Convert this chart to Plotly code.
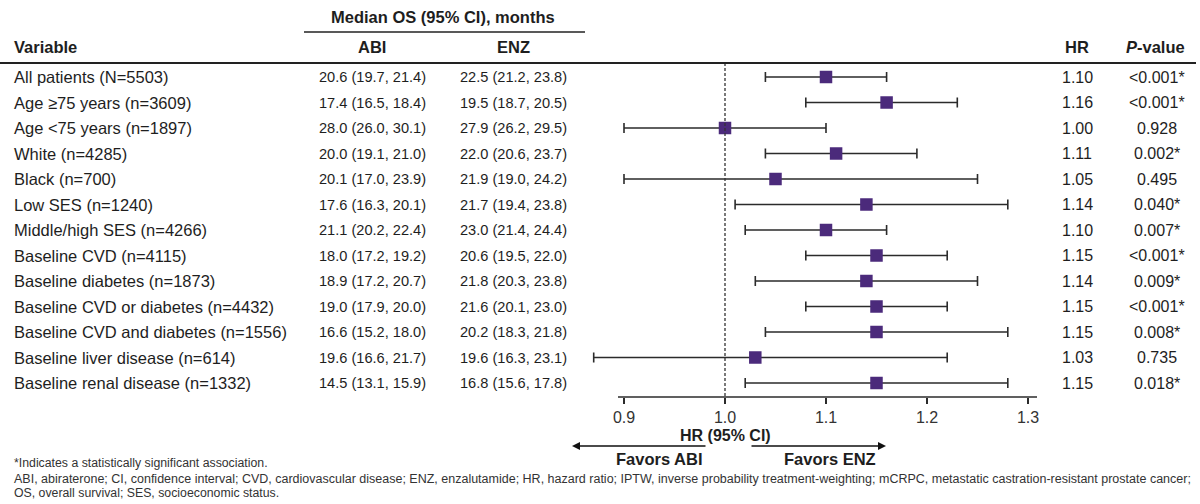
import plotly.graph_objects as go

labels = ["All patients (N=5503)", "Age \u226575 years (n=3609)", "Age <75 years (n=1897)",
          "White (n=4285)", "Black (n=700)", "Low SES (n=1240)", "Middle/high SES (n=4266)",
          "Baseline CVD (n=4115)", "Baseline diabetes (n=1873)", "Baseline CVD or diabetes (n=4432)",
          "Baseline CVD and diabetes (n=1556)", "Baseline liver disease (n=614)",
          "Baseline renal disease (n=1332)"]
abi = ["20.6 (19.7, 21.4)", "17.4 (16.5, 18.4)", "28.0 (26.0, 30.1)", "20.0 (19.1, 21.0)",
       "20.1 (17.0, 23.9)", "17.6 (16.3, 20.1)", "21.1 (20.2, 22.4)", "18.0 (17.2, 19.2)",
       "18.9 (17.2, 20.7)", "19.0 (17.9, 20.0)", "16.6 (15.2, 18.0)", "19.6 (16.6, 21.7)",
       "14.5 (13.1, 15.9)"]
enz = ["22.5 (21.2, 23.8)", "19.5 (18.7, 20.5)", "27.9 (26.2, 29.5)", "22.0 (20.6, 23.7)",
       "21.9 (19.0, 24.2)", "21.7 (19.4, 23.8)", "23.0 (21.4, 24.4)", "20.6 (19.5, 22.0)",
       "21.8 (20.3, 23.8)", "21.6 (20.1, 23.0)", "20.2 (18.3, 21.8)", "19.6 (16.3, 23.1)",
       "16.8 (15.6, 17.8)"]
hr = [1.10, 1.16, 1.00, 1.11, 1.05, 1.14, 1.10, 1.15, 1.14, 1.15, 1.15, 1.03, 1.15]
ci_low = [1.04, 1.08, 0.90, 1.04, 0.90, 1.01, 1.02, 1.08, 1.03, 1.08, 1.04, 0.87, 1.02]
ci_high = [1.16, 1.23, 1.10, 1.19, 1.25, 1.28, 1.16, 1.22, 1.25, 1.22, 1.28, 1.22, 1.28]
pvals = ["<0.001*", "<0.001*", "0.928", "0.002*", "0.495", "0.040*", "0.007*", "<0.001*",
         "0.009*", "<0.001*", "0.008*", "0.735", "0.018*"]
xticks = [0.9, 1.0, 1.1, 1.2, 1.3]

W, H = 1200, 504
FONT = "Liberation Sans, Arial, Helvetica, sans-serif"
TXT = "#1e1e1e"
rows = list(range(len(labels)))

# pixel geometry helpers
ROW0, ROWSTEP, AXIS_Y = 77, 25.5, 397
def px_to_row(py):
    return (py - ROW0) / ROWSTEP

X_L, X_R = 590, 1040          # plot area pixel extent
PX_PER_UNIT = 1010.0
X09 = 624
xr0 = 0.9 - (X09 - X_L) / PX_PER_UNIT
xr1 = 0.9 + (X_R - X09) / PX_PER_UNIT

def px(x):
    return x / W
def py(y):
    return 1 - y / H

fig = go.Figure()
fig.add_trace(go.Scatter(
    x=hr, y=rows, mode="markers",
    marker=dict(symbol="square", size=12.5, color="#4b2a7b"),
    error_x=dict(type="data", symmetric=False,
                 array=[hi - m for hi, m in zip(ci_high, hr)],
                 arrayminus=[m - lo for lo, m in zip(ci_low, hr)],
                 color="#2b2b2b", thickness=1.6, width=5),
    cliponaxis=False, showlegend=False, hoverinfo="skip"))

fig.update_layout(
    width=W, height=H, margin=dict(l=0, r=0, t=0, b=0),
    paper_bgcolor="white", plot_bgcolor="white",
    font=dict(family=FONT, color=TXT, size=16),
    xaxis=dict(domain=[px(X_L), px(X_R)], range=[xr0, xr1], tickvals=xticks,
               ticktext=[f"{t:.1f}" for t in xticks], ticks="outside", ticklen=6,
               tickwidth=1.5, tickcolor="#2b2b2b", showline=False, showgrid=False,
               zeroline=False, tickfont=dict(size=16, color="#333")),
    yaxis=dict(domain=[1 - AXIS_Y / H, 1], range=[px_to_row(AXIS_Y), px_to_row(0)],
               visible=False, showgrid=False, zeroline=False),
)

shapes = []
# axis line
shapes.append(dict(type="line", xref="x", yref="y domain", x0=0.9 - 6 / PX_PER_UNIT,
                   x1=1.3 + 9 / PX_PER_UNIT, y0=0, y1=0,
                   line=dict(color="#2b2b2b", width=1.6)))
# reference dashed line at HR = 1
shapes.append(dict(type="line", xref="x", yref="y", x0=1.0, x1=1.0,
                   y0=px_to_row(63), y1=px_to_row(AXIS_Y),
                   line=dict(color="#333", width=1.3, dash="3px,2px")))
# header rules
shapes.append(dict(type="line", xref="paper", yref="paper", x0=px(304), x1=px(585),
                   y0=py(32), y1=py(32), line=dict(color="#222", width=1.6)))
shapes.append(dict(type="line", xref="paper", yref="paper", x0=0, x1=px(1196),
                   y0=py(63), y1=py(63), line=dict(color="#222", width=1.8)))
fig.update_layout(shapes=shapes)

ann = []
def A(text, x, y, xanchor="center", size=16, color=TXT, yref="paper"):
    ann.append(dict(text=text, x=x, y=y, xref="paper", yref=yref, xanchor=xanchor,
                    yanchor="middle", showarrow=False,
                    font=dict(size=size, color=color, family=FONT)))

# headers
A("<b>Median OS (95% CI), months</b>", px(443), py(17), size=16.5)
A("<b>Variable</b>", px(12), py(47), xanchor="left", size=16.5)
A("<b>ABI</b>", px(372), py(47), size=16.5)
A("<b>ENZ</b>", px(513), py(47), size=16.5)
A("<b>HR</b>", px(1077), py(47), size=16.5)
A("<b><i>P</i>-value</b>", px(1155), py(47), size=16.5)

for i in rows:
    A(labels[i], px(12), i, xanchor="left", size=16.5, yref="y")
    A(abi[i], px(372), i, size=14.6, yref="y")
    A(enz[i], px(513), i, size=14.6, yref="y")
    A(f"{hr[i]:.2f}", px(1077), i, size=16, yref="y")
    A(pvals[i], px(1157), i, size=16, yref="y")

# axis title and direction labels
A("<b>HR (95% CI)</b>", px(725), py(435), size=16)
A("<b>Favors ABI</b>", px(659), py(459), size=16.5)
A("<b>Favors ENZ</b>", px(830), py(459), size=16.5)
# arrows
ann.append(dict(x=px(572), y=py(446), xref="paper", yref="paper", ax=135, ay=0,
                axref="pixel", ayref="pixel", text="", showarrow=True, arrowhead=2,
                arrowsize=1, arrowwidth=1.6, arrowcolor="#111", standoff=0))
ann.append(dict(x=px(886), y=py(446), xref="paper", yref="paper", ax=-136, ay=0,
                axref="pixel", ayref="pixel", text="", showarrow=True, arrowhead=2,
                arrowsize=1, arrowwidth=1.6, arrowcolor="#111", standoff=0))

# footnotes
A("*Indicates a statistically significant association.", px(12), py(463),
  xanchor="left", size=12.3, color="#333")
A("ABI, abiraterone; CI, confidence interval; CVD, cardiovascular disease; ENZ, enzalutamide; "
  "HR, hazard ratio; IPTW, inverse probability treatment-weighting; mCRPC, metastatic "
  "castration-resistant prostate cancer;", px(12), py(479), xanchor="left", size=12.5, color="#333")
A("OS, overall survival; SES, socioeconomic status.", px(12), py(493),
  xanchor="left", size=12.3, color="#333")

fig.update_layout(annotations=ann)
fig.write_html("out.html")
